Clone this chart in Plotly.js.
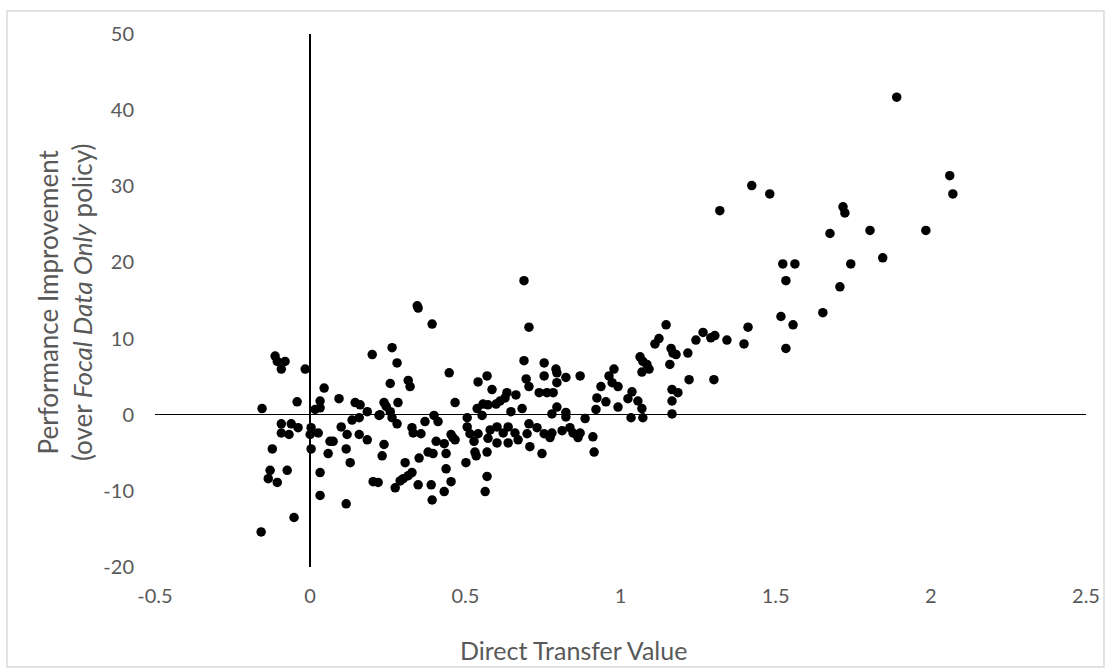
<!DOCTYPE html>
<html>
<head>
<meta charset="utf-8">
<script src="https://cdn.plot.ly/plotly-3.0.1.min.js"></script>
<style>html,body{margin:0;padding:0;background:#fff;}#chart{width:1111px;height:669px;}</style>
</head>
<body>
<div id="chart"></div>
<script>
// Direct Transfer Value (x) and Performance Improvement (y)
const directTransfer = [
 -0.122,0.003,0.058,0.116,0.129,-0.129,-0.074,-0.135,-0.106,0.032,0.203,0.219,0.032,0.116,-0.052,-0.158,0.064,0.074,0.184,
 -0.113,-0.106,-0.081,-0.093,-0.016,0.200,0.045,-0.042,0.032,0.093,0.145,0.161,-0.155,0.016,0.032,0.184,0.135,0.158,0.222,
 -0.093,-0.061,-0.093,-0.068,-0.039,0.003,0.0,0.026,0.100,0.119,0.158,
 0.345,0.348,0.393,0.264,0.280,0.448,0.258,0.316,0.322,0.238,0.245,0.283,0.467,0.541,0.570,0.586,0.557,0.573,0.599,0.538,
 0.225,0.258,0.264,0.280,0.399,0.412,0.370,0.506,0.554,0.328,0.332,0.357,0.506,0.515,0.541,0.580,0.602,0.454,0.460,0.406,
 0.432,0.528,0.573,0.602,0.238,0.380,
 0.232,0.306,0.351,0.396,0.438,0.467,0.531,0.535,0.570,0.502,0.438,0.328,0.316,0.300,0.290,0.274,0.348,0.390,0.454,0.432,
 0.393,0.570,0.564,
 0.689,0.705,0.689,0.754,0.792,0.795,0.824,0.754,0.696,0.705,0.795,0.870,0.738,0.763,0.783,0.634,0.663,0.628,0.612,0.647,
 0.683,0.779,0.795,0.824,0.824,0.886,0.921,0.924,0.953,0.937,0.963,0.979,0.992,0.992,0.622,0.638,0.660,0.638,0.699,0.705,
 0.731,0.754,0.773,0.779,0.812,0.837,0.847,0.863,0.870,0.911,0.708,0.670,0.747,0.915,
 1.147,1.124,1.111,1.266,1.243,1.291,1.304,1.343,1.411,1.398,1.163,1.169,1.179,1.217,1.063,1.072,1.085,1.092,1.069,1.159,
 0.973,1.221,1.301,1.037,1.166,1.185,1.024,1.056,1.166,1.069,1.166,1.034,1.072,
 2.061,2.071,1.423,1.481,1.717,1.723,1.675,1.804,1.984,1.845,1.523,1.562,1.742,1.533,1.707,1.652,1.517,1.556,1.533,1.320,1.890
];
const perfImprovement = [
 -4.5,-4.5,-5.1,-4.5,-6.3,-7.3,-7.3,-8.4,-8.9,-7.6,-8.8,-8.9,-10.6,-11.7,-13.5,-15.4,-3.5,-3.5,-3.3,
 7.7,7.0,7.0,6.0,6.0,7.9,3.5,1.7,1.8,2.1,1.6,1.3,0.8,0.7,0.9,0.4,-0.7,-0.4,-0.1,
 -1.2,-1.2,-2.4,-2.6,-1.7,-1.7,-2.6,-2.4,-1.6,-2.6,-2.6,
 14.3,14.0,11.9,8.8,6.8,5.5,4.1,4.5,3.7,1.6,1.1,1.6,1.6,4.3,5.1,3.3,1.4,1.3,1.4,0.8,
 0.0,0.4,-0.4,-1.2,-0.1,-0.9,-0.9,-0.4,-0.1,-1.7,-2.4,-2.5,-1.6,-2.5,-2.5,-2.0,-1.6,-2.6,-3.0,-3.5,
 -3.8,-3.5,-3.1,-3.7,-3.9,-4.9,
 -5.4,-6.3,-5.7,-5.1,-5.1,-3.3,-4.9,-5.4,-4.9,-6.3,-7.1,-7.6,-8.0,-8.4,-8.7,-9.6,-9.2,-9.2,-8.8,-10.1,
 -11.2,-8.1,-10.1,
 17.6,11.5,7.1,6.8,6.0,5.5,4.9,5.1,4.7,3.7,4.2,5.1,2.9,2.9,2.9,2.9,2.6,2.2,1.8,0.4,
 0.8,0.1,1.0,0.3,-0.3,-0.5,0.7,2.2,1.7,3.7,5.1,6.0,3.7,1.0,-2.4,-1.6,-2.4,-3.7,-2.5,-1.2,
 -1.7,-2.5,-3.0,-2.4,-2.1,-1.7,-2.4,-3.0,-2.4,-2.9,-4.2,-3.3,-5.1,-4.9,
 11.8,10.0,9.3,10.8,9.8,10.1,10.4,9.8,11.5,9.3,8.7,8.1,7.9,8.1,7.6,7.0,6.6,6.0,5.6,6.6,
 4.2,4.6,4.6,3.0,3.3,2.9,2.1,1.8,1.8,0.8,0.1,-0.4,-0.4,
 31.4,29.0,30.1,29.0,27.3,26.5,23.8,24.2,24.2,20.6,19.8,19.8,19.8,17.6,16.8,13.4,12.9,11.8,8.7,26.8,41.7
];
const xTickVals = [-0.5, 0, 0.5, 1, 1.5, 2, 2.5];
const xTickText = ['-0.5', '0', '0.5', '1', '1.5', '2', '2.5'];
const yTickVals = [-20, -10, 0, 10, 20, 30, 40, 50];
const yTickText = ['-20', '-10', '0', '10', '20', '30', '40', '50'];

const gray = '#595959';
const fontFam = 'Lato, "Open Sans", sans-serif';

const trace = {
  x: directTransfer, y: perfImprovement,
  type: 'scatter', mode: 'markers',
  marker: {color: '#000000', size: 9.5},
  hoverinfo: 'x+y', showlegend: false
};

const layout = {
  width: 1111, height: 669,
  margin: {l: 155, r: 25, t: 34, b: 102},
  paper_bgcolor: '#ffffff', plot_bgcolor: '#ffffff',
  font: {family: fontFam, color: gray},
  xaxis: {
    range: [-0.5, 2.5], tickvals: xTickVals, ticktext: xTickText,
    showgrid: false, showline: false, ticks: '',
    zeroline: true, zerolinecolor: '#000000', zerolinewidth: 1.5,
    tickfont: {family: fontFam, size: 20, color: gray},
    ticklabelstandoff: 15, fixedrange: true
  },
  yaxis: {
    range: [-20, 50], tickvals: yTickVals, ticktext: yTickText,
    showgrid: false, showline: false, ticks: '',
    zeroline: true, zerolinecolor: '#000000', zerolinewidth: 1.5,
    tickfont: {family: fontFam, size: 20, color: gray},
    ticklabelstandoff: 20, fixedrange: true
  },
  annotations: [
    {text: 'Direct Transfer Value', xref: 'paper', yref: 'paper',
     x: 0.449, y: -0.155, xanchor: 'center', yanchor: 'middle', showarrow: false,
     font: {family: fontFam, size: 25, color: gray}},
    {text: 'Performance Improvement<br>(over <i>Focal Data Only</i> policy)', xref: 'paper', yref: 'paper',
     x: -0.0967, y: 0.497, xanchor: 'center', yanchor: 'middle', showarrow: false, textangle: -90,
     font: {family: fontFam, size: 26, color: gray}}
  ],
  shapes: [
    {type: 'rect', xref: 'paper', yref: 'paper', x0: -0.159, x1: 1.0193, y0: -0.1876, y1: 1.0432,
     line: {color: '#d9d9d9', width: 1.5}, fillcolor: 'rgba(0,0,0,0)', layer: 'below'}
  ]
};

Plotly.newPlot('chart', [trace], layout, {displayModeBar: false, staticPlot: true});
</script>
</body>
</html>
